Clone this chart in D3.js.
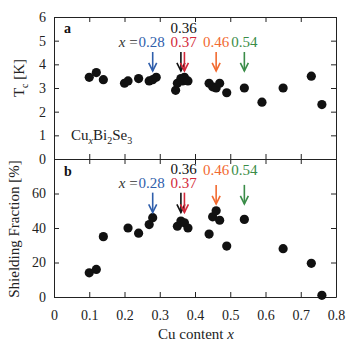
<!DOCTYPE html>
<html>
<head>
<meta charset="utf-8">
<script src="https://cdn.jsdelivr.net/npm/d3@7"></script>
<style>
  body { margin: 0; background: #fff; }
  svg text { font-family: "Liberation Serif", "Times New Roman", serif; }
</style>
</head>
<body>
<div id="chart"></div>
<script>
// panel a: Tc vs Cu content
var tcX  = [0.10, 0.12, 0.14, 0.20, 0.21, 0.24, 0.27, 0.28, 0.29, 0.345, 0.35, 0.36, 0.365, 0.37, 0.38, 0.44, 0.45, 0.46, 0.47, 0.49, 0.54, 0.59, 0.65, 0.73, 0.76];
var tcY  = [3.45, 3.65, 3.35, 3.2, 3.3, 3.4, 3.3, 3.35, 3.45, 2.9, 3.2, 3.4, 3.3, 3.45, 3.3, 3.2, 3.05, 3.0, 3.2, 2.8, 3.0, 2.4, 3.0, 3.5, 2.3];
// panel b: shielding fraction vs Cu content
var sfX  = [0.10, 0.12, 0.14, 0.21, 0.24, 0.27, 0.28, 0.35, 0.36, 0.37, 0.38, 0.44, 0.45, 0.46, 0.47, 0.49, 0.54, 0.65, 0.73, 0.76];
var sfY  = [14, 16, 35, 40, 37, 42, 46, 41, 44, 43, 40, 36.5, 46.5, 50, 44.5, 29.5, 45, 28, 19.5, 1];
// highlighted samples
var markX      = [0.28, 0.36, 0.37, 0.46, 0.54];
var markLabels = ["0.28", "0.36", "0.37", "0.46", "0.54"];
var markColors = ["#2f5eab", "#111111", "#d3283a", "#f26a30", "#3a8c48"];
// tick values
var xTicks  = [0, 0.1, 0.2, 0.3, 0.4, 0.5, 0.6, 0.7, 0.8];
var tcTicks = [0, 1, 2, 3, 4, 5, 6];
var sfTicks = [0, 20, 40, 60, 80];

var width = 354, height = 346;
var plotLeft = 54, plotRight = 336, plotTop = 17, plotMid = 159, plotBottom = 297;

var svg = d3.select("#chart").append("svg")
            .attr("width", width)
            .attr("height", height);

var x  = d3.scaleLinear().domain([0, 0.8]).range([plotLeft, plotRight]);
var yA = d3.scaleLinear().domain([0, 6]).range([plotMid, plotTop]);
var yB = d3.scaleLinear().domain([0, 80]).range([plotBottom, plotMid]);

var fmtX = function(d) { return d === 0 ? "0" : d3.format(".1f")(d); };

function styleAxis(g) {
    g.attr("font-family", "Liberation Serif, Times New Roman, serif").attr("font-size", 14);
    g.selectAll("path").attr("stroke", "#222").attr("stroke-width", 1);
    g.selectAll("line").attr("stroke", "#222").attr("stroke-width", 1);
    g.selectAll("text").attr("fill", "#222");
}

// bottom x axis with labels
svg.append("g")
   .attr("transform", "translate(0," + plotBottom + ")")
   .call(d3.axisBottom(x).tickValues(xTicks).tickFormat(fmtX).tickSize(-5).tickSizeOuter(0).tickPadding(13))
   .call(styleAxis);
// top edge of panel a
svg.append("g")
   .attr("transform", "translate(0," + plotTop + ")")
   .call(d3.axisTop(x).tickValues(xTicks).tickFormat("").tickSize(-5).tickSizeOuter(0))
   .call(styleAxis);
// divider: ticks into both panels
svg.append("g")
   .attr("transform", "translate(0," + plotMid + ")")
   .call(d3.axisBottom(x).tickValues(xTicks).tickFormat("").tickSize(-5).tickSizeOuter(0))
   .call(styleAxis);
svg.append("g")
   .attr("transform", "translate(0," + plotMid + ")")
   .call(d3.axisTop(x).tickValues(xTicks).tickFormat("").tickSize(-5).tickSizeOuter(0))
   .call(styleAxis);

// y axes
svg.append("g")
   .attr("transform", "translate(" + plotLeft + ",0)")
   .call(d3.axisLeft(yA).tickValues(tcTicks).tickFormat(d3.format("d")).tickSize(-5).tickSizeOuter(0).tickPadding(8))
   .call(styleAxis);
svg.append("g")
   .attr("transform", "translate(" + plotRight + ",0)")
   .call(d3.axisRight(yA).tickValues(tcTicks).tickFormat("").tickSize(-5).tickSizeOuter(0))
   .call(styleAxis);
svg.append("g")
   .attr("transform", "translate(" + plotLeft + ",0)")
   .call(d3.axisLeft(yB).tickValues(sfTicks).tickFormat(function(d) { return d === 80 ? "" : d; }).tickSize(-5).tickSizeOuter(0).tickPadding(8))
   .call(styleAxis);
svg.append("g")
   .attr("transform", "translate(" + plotRight + ",0)")
   .call(d3.axisRight(yB).tickValues(sfTicks).tickFormat("").tickSize(-5).tickSizeOuter(0))
   .call(styleAxis);

// data points
svg.append("g").selectAll("circle")
   .data(tcX)
   .enter()
   .append("circle")
   .attr("cx", function(d) { return x(d); })
   .attr("cy", function(d, i) { return yA(tcY[i]); })
   .attr("r", 4.6)
   .attr("fill", "#111");
svg.append("g").selectAll("circle")
   .data(sfX)
   .enter()
   .append("circle")
   .attr("cx", function(d) { return x(d); })
   .attr("cy", function(d, i) { return yB(sfY[i]); })
   .attr("r", 4.6)
   .attr("fill", "#111");

// arrows
function arrow(g, xv, y1, y2, color) {
    var px = x(xv);
    g.append("line")
     .attr("x1", px).attr("x2", px)
     .attr("y1", y1).attr("y2", y2)
     .attr("stroke", color).attr("stroke-width", 1.6);
    g.append("path")
     .attr("d", "M" + (px - 4) + "," + (y2 - 8) + "L" + px + "," + y2 + "L" + (px + 4) + "," + (y2 - 8))
     .attr("fill", "none").attr("stroke", color).attr("stroke-width", 1.6);
}

var ann = svg.append("g");
markX.forEach(function(v, i) {
    arrow(ann, v, yA(4.52), yA(3.72), markColors[i]);
    if (v > 0.4) arrow(ann, v, yB(65), yB(54), markColors[i]);
    else arrow(ann, v, yB(60.5), yB(49), markColors[i]);
});

// arrow labels; baseRight = baseline for 0.46 / 0.54
function labels(baseUpper, baseLower, baseRight) {
    var g = svg.append("g").attr("font-size", "15px");
    var x0 = g.append("text")
              .attr("x", x(0.28) - 15).attr("y", baseLower)
              .attr("text-anchor", "end")
              .attr("fill", "#333");
    x0.append("tspan").attr("font-style", "italic").text("x");
    x0.append("tspan").text(" =");
    g.append("text").attr("x", x(0.28) - 1).attr("y", baseLower).attr("text-anchor", "middle")
     .attr("fill", markColors[0]).text(markLabels[0]);
    g.append("text").attr("x", x(0.365) + 1).attr("y", baseUpper).attr("text-anchor", "middle")
     .attr("fill", markColors[1]).text(markLabels[1]);
    g.append("text").attr("x", x(0.365) + 1).attr("y", baseLower).attr("text-anchor", "middle")
     .attr("fill", markColors[2]).text(markLabels[2]);
    g.append("text").attr("x", x(0.46)).attr("y", baseRight).attr("text-anchor", "middle")
     .attr("fill", markColors[3]).text(markLabels[3]);
    g.append("text").attr("x", x(0.54)).attr("y", baseRight).attr("text-anchor", "middle")
     .attr("fill", markColors[4]).text(markLabels[4]);
}
labels(33, 47, 47);
labels(174, 188, 175);

// panel letters
svg.append("text").attr("x", 64).attr("y", 33).attr("font-size", "14px").attr("font-weight", "bold").attr("fill", "#111").text("a");
svg.append("text").attr("x", 64).attr("y", 176).attr("font-size", "14px").attr("font-weight", "bold").attr("fill", "#111").text("b");

// compound formula
var formula = svg.append("text").attr("x", 71).attr("y", 140).attr("font-size", "15px").attr("fill", "#222");
formula.append("tspan").text("Cu");
formula.append("tspan").attr("font-size", "10px").attr("font-style", "italic").attr("dy", 4).text("x");
formula.append("tspan").attr("dy", -4).text("Bi");
formula.append("tspan").attr("font-size", "10px").attr("dy", 4).text("2");
formula.append("tspan").attr("dy", -4).text("Se");
formula.append("tspan").attr("font-size", "10px").attr("dy", 4).text("3");

// axis titles
var tcLabel = svg.append("text")
                 .attr("transform", "translate(24," + 78 + ") rotate(-90)")
                 .attr("text-anchor", "middle")
                 .attr("font-size", "15px")
                 .attr("fill", "#222");
tcLabel.append("tspan").text("T");
tcLabel.append("tspan").attr("font-size", "10px").attr("dy", 4).text("c");
tcLabel.append("tspan").attr("dy", -4).text(" [K]");

svg.append("text")
   .attr("transform", "translate(19," + 229 + ") rotate(-90)")
   .attr("text-anchor", "middle")
   .attr("font-size", "15px")
   .attr("fill", "#222")
   .text("Shielding Fraction [%]");

var xLabel = svg.append("text")
                .attr("x", 196).attr("y", 339)
                .attr("text-anchor", "middle")
                .attr("font-size", "15px")
                .attr("fill", "#222");
xLabel.append("tspan").text("Cu content ");
xLabel.append("tspan").attr("font-style", "italic").text("x");
</script>
</body>
</html>
